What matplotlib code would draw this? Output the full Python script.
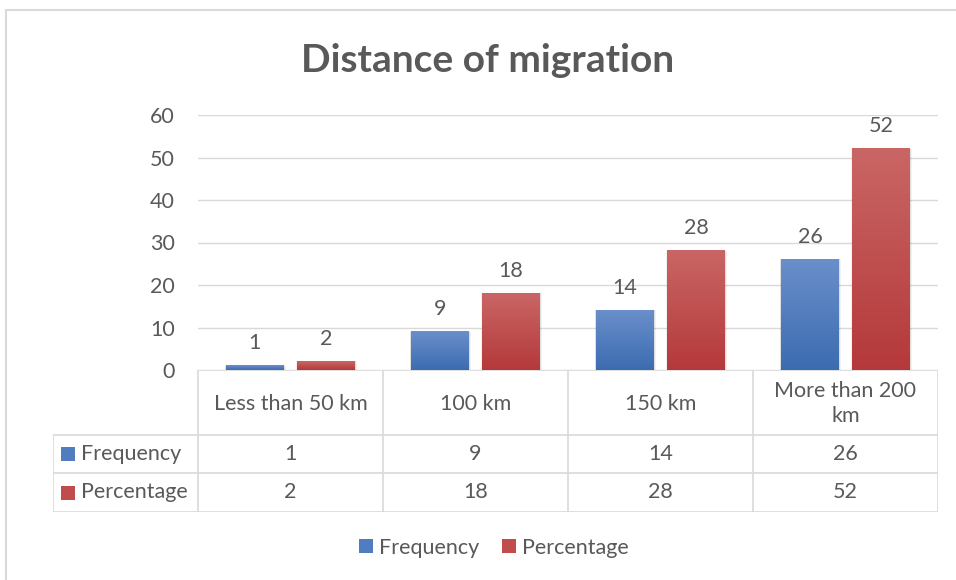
import numpy as np
import matplotlib.pyplot as plt
from matplotlib.colors import LinearSegmentedColormap
from matplotlib.lines import Line2D
from matplotlib.patches import Rectangle

categories = ['Less than 50 km', '100 km', '150 km', 'More than 200\nkm']
frequency = [1, 9, 14, 26]
percentage = [2, 18, 28, 52]
series_names = ['Frequency', 'Percentage']
yticks = [0, 10, 20, 30, 40, 50, 60]

W, H = 956, 580
TXT = '#595959'
GRID = '#d9d9d9'
FS = 15.5
plt.rcParams['font.family'] = ['Lato', 'DejaVu Sans']

blue_grad = LinearSegmentedColormap.from_list('bl', ['#3c6cb0', '#6a8fca'])
red_grad = LinearSegmentedColormap.from_list('rd', ['#b5393a', '#c96665'])
blue_mid, red_mid = '#4f7dbf', '#c04d4c'


def fx(px):
    return px / W


def fy(py):
    return 1 - py / H


fig = plt.figure(figsize=(W / 100, H / 100), dpi=100)

# outer chart border
fig.add_artist(Rectangle((fx(6), -0.05), 1.2, fy(10) + 0.05, transform=fig.transFigure,
                         fill=False, edgecolor=GRID, lw=1.5))

fig.text(fx(488), fy(60), 'Distance of migration', ha='center', va='center',
         fontsize=28, fontweight='bold', color=TXT)

# bar area
ax = fig.add_axes([fx(198), fy(370), fx(938) - fx(198), fy(115) - fy(370)])
ax.set_xlim(-0.5, len(categories) - 0.5)
ax.set_ylim(0, 60)
ax.set_yticks(yticks)
ax.set_xticks([])
ax.yaxis.grid(True, color=GRID, lw=1)
ax.set_axisbelow(True)
for s in ax.spines.values():
    s.set_visible(False)
ax.tick_params(axis='y', length=0, pad=16.5, labelsize=FS, labelcolor=TXT)

x = np.arange(len(categories))
bw, off = 0.313, 0.192
grad = np.linspace(0, 1, 100).reshape(-1, 1)
for vals, dx, cmap in [(frequency, -off, blue_grad), (percentage, off, red_grad)]:
    bars = ax.bar(x + dx, vals, bw, color='none', zorder=2)
    for b, v in zip(bars, vals):
        x0, w = b.get_x(), b.get_width()
        # soft shadow around the bar
        for k, a in [(0.012, 0.05), (0.006, 0.08)]:
            ax.add_patch(Rectangle((x0 - k / 2, 0), w + k * 1.5, v + k * 8, color='#000000',
                                   alpha=a, zorder=1.5, lw=0))
        ax.imshow(grad, cmap=cmap, extent=[x0, x0 + w, 0, v], origin='lower',
                  aspect='auto', zorder=2.5)
        ax.annotate(str(v), (x0 + w / 2, v), xytext=(0, 9), textcoords='offset points',
                    ha='center', va='bottom', fontsize=FS, color=TXT)
ax.set_xlim(-0.5, len(categories) - 0.5)
ax.set_ylim(0, 60)

# data table below the bars
left = -0.5 - 145 / 185
tab = fig.add_axes([fx(53), fy(512), fx(938) - fx(53), fy(370) - fy(512)])
tab.set_xlim(left, len(categories) - 0.5)
tab.set_ylim(142, 0)
tab.axis('off')
rows = [0, 65, 103, 142]
lk = dict(color=GRID, lw=1.2, solid_capstyle='butt')
tab.plot([-0.5, len(categories) - 0.5], [rows[0]] * 2, **lk)
for r in rows[1:]:
    tab.plot([left, len(categories) - 0.5], [r] * 2, **lk)
for xe in np.arange(len(categories) + 1) - 0.5:
    tab.plot([xe, xe], [rows[0], rows[3]], **lk)
tab.plot([left, left], [rows[1], rows[3]], **lk)

for i, c in enumerate(categories):
    tab.text(i, (rows[0] + rows[1]) / 2 + 1, c, ha='center', va='center', fontsize=FS,
             color=TXT, linespacing=1.35)
for k, (name, vals, col) in enumerate(zip(series_names, [frequency, percentage],
                                          [blue_mid, red_mid])):
    yc = (rows[k + 1] + rows[k + 2]) / 2
    tab.plot(left + 14.5 / 185, yc, marker='s', ms=9.5, color=col, mew=0)
    tab.text(left + 28 / 185, yc, name, ha='left', va='center', fontsize=FS, color=TXT)
    for i, v in enumerate(vals):
        tab.text(i, yc, str(v), ha='center', va='center', fontsize=FS, color=TXT)

handles = [Line2D([], [], marker='s', ls='', ms=9.5, color=c, mew=0)
           for c in [blue_mid, red_mid]]
fig.legend(handles, series_names, loc='center', bbox_to_anchor=(fx(492), fy(548)),
           ncol=2, frameon=False, fontsize=FS, labelcolor=TXT, handletextpad=0.1,
           columnspacing=0.9, handlelength=1)

fig.savefig('out.png', dpi=100)
